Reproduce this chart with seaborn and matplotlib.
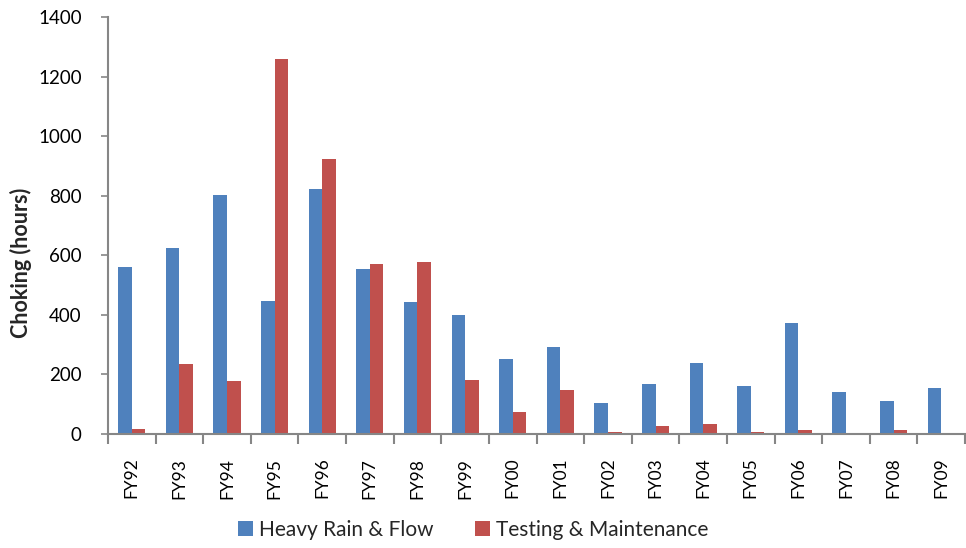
import numpy as np
import pandas as pd
import matplotlib
matplotlib.use("Agg")
import matplotlib.pyplot as plt
import seaborn as sns

years = ["FY92", "FY93", "FY94", "FY95", "FY96", "FY97", "FY98", "FY99", "FY00",
         "FY01", "FY02", "FY03", "FY04", "FY05", "FY06", "FY07", "FY08", "FY09"]
heavy_rain = [560, 625, 804, 446, 822, 554, 442, 398, 251,
              292, 104, 169, 237, 160, 373, 140, 110, 154]
testing = [16, 234, 178, 1258, 922, 571, 578, 183, 74,
           147, 7, 26, 33, 6, 13, 5, 13, 0]
series_names = ["Heavy Rain & Flow", "Testing & Maintenance"]
colors = ["#4F81BD", "#C0504D"]

df = pd.DataFrame({
    "year": years * 2,
    "hours": heavy_rain + testing,
    "cause": [series_names[0]] * len(years) + [series_names[1]] * len(years),
})

sns.set_theme(style="white")
plt.rcParams["font.family"] = ["Lato", "DejaVu Sans"]

fig = plt.figure(figsize=(9.66, 5.48), dpi=100)
ax = fig.add_axes([0.1118, 0.208, 0.8872, 0.761])

sns.barplot(data=df, x="year", y="hours", hue="cause", order=years,
            hue_order=series_names, palette=colors, width=0.57,
            saturation=1, edgecolor="none", ax=ax, legend=True)

ax.set_xlim(-0.5, len(years) - 0.5)
ax.set_ylim(0, 1400)
ax.set_yticks(np.arange(0, 1401, 200))
ax.tick_params(axis="y", labelsize=13.5, length=5, width=1.2, color="#868686",
               left=True, pad=14, labelcolor="black")
ax.tick_params(axis="x", which="major", length=0, labelsize=12.5, rotation=90, pad=17,
               labelcolor="black")
ax.set_xticks(np.arange(-0.5, len(years), 1), minor=True)
ax.tick_params(axis="x", which="minor", length=7, width=1.5, color="#868686",
               bottom=True)

for side in ["top", "right"]:
    ax.spines[side].set_visible(False)
for side in ["left", "bottom"]:
    ax.spines[side].set_color("#868686")
    ax.spines[side].set_linewidth(1.5)

ax.set_xlabel("")
ax.set_ylabel("Choking (hours)", fontsize=15.5, fontweight="bold", labelpad=4)
ax.yaxis.label.set_y(0.41)

handles, labels = ax.get_legend_handles_labels()
ax.legend_.remove()
fig.legend(handles, labels, loc="center", bbox_to_anchor=(0.49, 0.033), ncol=2,
           frameon=False, fontsize=15, handlelength=0.7, handleheight=0.7,
           handletextpad=0.3, columnspacing=2.0)

fig.savefig("out.png", dpi=100)
